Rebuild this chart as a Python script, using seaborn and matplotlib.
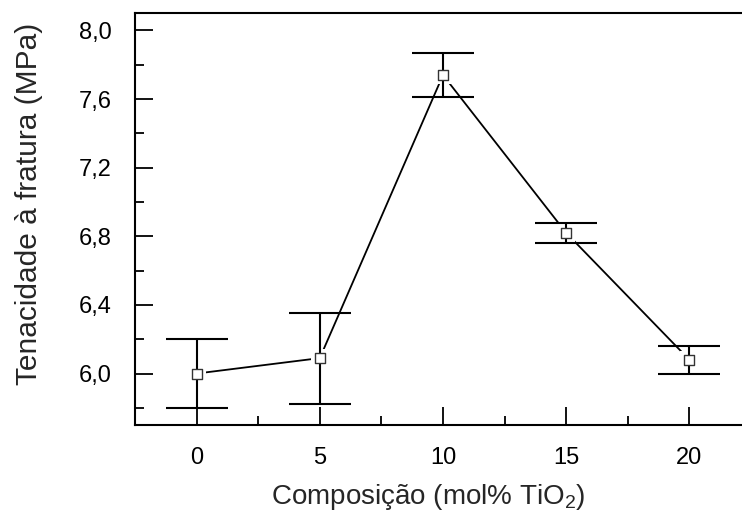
import matplotlib
matplotlib.use("Agg")
import matplotlib.pyplot as plt
from matplotlib.ticker import MultipleLocator, FuncFormatter
import seaborn as sns
import pandas as pd

composition = [0, 5, 10, 15, 20]
toughness = [6.00, 6.09, 7.74, 6.82, 6.08]
error = [0.20, 0.265, 0.13, 0.06, 0.083]

sns.set_style("ticks")
plt.rcParams["font.family"] = ["Liberation Sans", "DejaVu Sans"]
plt.rcParams["mathtext.fontset"] = "custom"
plt.rcParams["mathtext.rm"] = "Liberation Sans"
plt.rcParams["mathtext.it"] = "Liberation Sans"

df = pd.DataFrame({"x": composition, "y": toughness, "e": error})

fig = plt.figure(figsize=(7.42, 5.21), dpi=100)
ax = fig.add_axes([135 / 742, 1 - 425 / 521, (751 - 135) / 742, (425 - 13.3) / 521])

sns.lineplot(data=df, x="x", y="y", ax=ax, color="black", lw=1.3, zorder=1)
sns.scatterplot(data=df, x="x", y="y", ax=ax, marker="s", s=170, color="white",
                edgecolor="white", linewidth=0, zorder=2)
ax.errorbar(df["x"], df["y"], yerr=df["e"], fmt="none", ecolor="black",
            elinewidth=1.5, capsize=22, capthick=1.5, zorder=3)
sns.scatterplot(data=df, x="x", y="y", ax=ax, marker="s", s=55, color="white",
                edgecolor="#333333", linewidth=1.0, zorder=4)

ax.set_xlim(-2.5, 22.5)
ax.set_ylim(5.7, 8.1)
ax.xaxis.set_major_locator(MultipleLocator(5))
ax.xaxis.set_minor_locator(MultipleLocator(2.5))
ax.yaxis.set_major_locator(MultipleLocator(0.4))
ax.yaxis.set_minor_locator(MultipleLocator(0.2))
ax.yaxis.set_major_formatter(FuncFormatter(lambda v, p: f"{v:.1f}".replace(".", ",")))
ax.xaxis.set_major_formatter(FuncFormatter(lambda v, p: f"{v:.0f}"))

ax.tick_params(which="both", direction="in", width=1.3, colors="black",
               labelsize=17, top=False, right=False)
ax.tick_params(which="major", length=13)
ax.tick_params(which="minor", length=6.5)
ax.tick_params(axis="y", which="major", pad=16.5)
ax.tick_params(axis="x", which="major", pad=15.5)

for name, sp in ax.spines.items():
    sp.set_linewidth(1.5)
    sp.set_color("black")
    sp.set_visible(name != "right")

ax.set_xlabel(r"Composição (mol% TiO$_2$)", fontsize=20, labelpad=10)
ax.set_ylabel("Tenacidade à fratura (MPa)", fontsize=21.5, labelpad=26)
ax.xaxis.label.set_x((428 - 135) / 616)
ax.yaxis.label.set_y((425 - 204) / 411.7)

fig.savefig("out.png", dpi=100)
